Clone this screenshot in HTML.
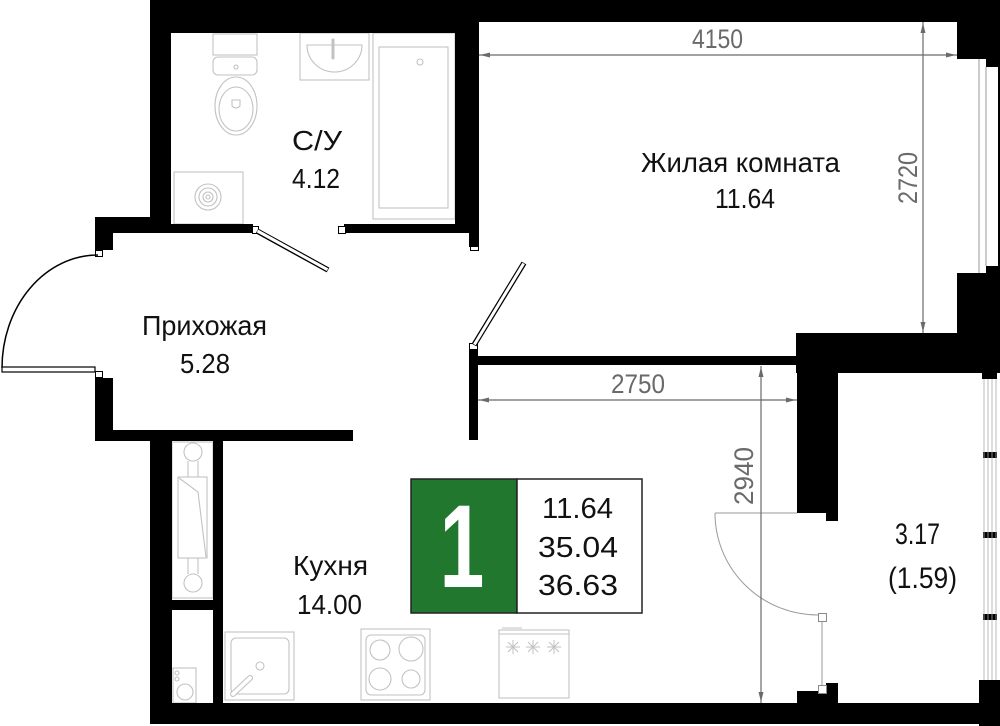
<!DOCTYPE html>
<html><head><meta charset="utf-8">
<style>html,body{margin:0;padding:0;background:#fff;}svg{display:block}</style>
</head>
<body>
<svg width="1000" height="726" viewBox="0 0 1000 726" xmlns="http://www.w3.org/2000/svg">
<rect width="1000" height="726" fill="#fff"/>

<!-- fixtures (light gray) -->
<g fill="none" stroke="#c2c2c2" stroke-width="1.1">
  <!-- toilet -->
  <rect x="213" y="34" width="44" height="21"/>
  <rect x="213" y="57" width="44" height="18" rx="5"/>
  <circle cx="236" cy="67" r="2"/>
  <ellipse cx="236" cy="106" rx="21" ry="29"/>
  <ellipse cx="236" cy="109" rx="17" ry="22"/>
  <path d="M232 100 L232 106 Q236 110 240 106 L240 100 Z"/>
  <!-- sink -->
  <rect x="300" y="33" width="69" height="47"/>
  <path d="M307 45 L362 45 A27.5 27 0 0 1 307 45 Z"/>
  <path d="M333 40 L333 58" stroke-width="3" stroke-linecap="round"/>
  <!-- bathtub -->
  <rect x="373" y="33" width="82" height="186"/>
  <rect x="379" y="47" width="69" height="161"/>
  <circle cx="420" cy="62" r="3"/>
  <!-- washer -->
  <rect x="174" y="172" width="69" height="52"/>
  <circle cx="208" cy="197" r="13"/>
  <circle cx="208" cy="197" r="9"/>
  <circle cx="208" cy="197" r="5"/>
  <circle cx="208" cy="197" r="2"/>
  <!-- shaft / radiator -->
  <rect x="172" y="442" width="41" height="156"/>
  <circle cx="193" cy="452" r="9"/>
  <circle cx="193" cy="583" r="9"/>
  <line x1="188" y1="461" x2="188" y2="477"/>
  <line x1="198" y1="461" x2="198" y2="477"/>
  <line x1="188" y1="558" x2="188" y2="574"/>
  <line x1="198" y1="558" x2="198" y2="574"/>
  <rect x="178" y="477" width="29" height="81"/>
  <path d="M179 478 L198 492 L206 557"/>
  <!-- small appliance -->
  <rect x="173" y="668" width="23" height="35"/>
  <circle cx="177" cy="673" r="2"/>
  <circle cx="177" cy="679" r="2"/>
  <circle cx="185" cy="692" r="8"/>
  <!-- kitchen sink -->
  <rect x="225" y="632" width="69" height="68"/>
  <rect x="231" y="638" width="58" height="56" rx="5"/>
  <circle cx="260" cy="666" r="4"/>
  <path d="M233 694 L250 678" stroke-width="6" stroke-linecap="round"/>
  <path d="M233 694 L250 678" stroke="#fff" stroke-width="3.8" stroke-linecap="round"/>
  <!-- stove -->
  <rect x="361" y="629" width="69" height="71"/>
  <rect x="366" y="635" width="59" height="60" rx="5"/>
  <circle cx="380" cy="650" r="10"/>
  <circle cx="411" cy="649" r="12"/>
  <circle cx="380" cy="679" r="11"/>
  <circle cx="411" cy="679" r="9"/>
  <!-- oven -->
  <rect x="499" y="630" width="70" height="68"/>
  <line x1="499" y1="634" x2="569" y2="634"/>
  <line x1="502" y1="628" x2="522" y2="628"/>
  <g stroke-width="1">
    <path d="M506 647 L520 647 M513 640 L513 654 M508 642 L518 652 M518 642 L508 652"/>
    <path d="M526 647 L540 647 M533 640 L533 654 M528 642 L538 652 M538 642 L528 652"/>
    <path d="M547 647 L561 647 M554 640 L554 654 M549 642 L559 652 M559 642 L549 652"/>
  </g>
</g>

<!-- walls -->
<g fill="#000">
  <rect x="150" y="0" width="850" height="22"/>
  <rect x="150" y="0" width="329" height="33"/>
  <rect x="150" y="0" width="21" height="233"/>
  <rect x="455" y="0" width="24" height="224"/>
  <rect x="344" y="224" width="135" height="9"/>
  <rect x="469" y="224" width="10" height="23"/>
  <rect x="150" y="224" width="103" height="9"/>
  <rect x="95" y="217" width="76" height="16"/>
  <rect x="95" y="217" width="18" height="33"/>
  <rect x="95" y="378" width="18" height="63"/>
  <rect x="95" y="430" width="258" height="11"/>
  <rect x="150" y="430" width="22" height="294"/>
  <rect x="213" y="441" width="10" height="262"/>
  <rect x="172" y="600" width="41" height="10"/>
  <rect x="469" y="350" width="9" height="90"/>
  <rect x="469" y="356" width="330" height="9"/>
  <rect x="957" y="0" width="43" height="59"/>
  <rect x="957" y="273" width="43" height="62"/>
  <rect x="986" y="59" width="14" height="8"/>
  <rect x="986" y="266" width="14" height="7"/>
  <rect x="998" y="59" width="2" height="214"/>
  <rect x="796" y="333" width="204" height="40"/>
  <rect x="797" y="373" width="41" height="140"/>
  <rect x="826" y="513" width="12" height="8"/>
  <rect x="982" y="373" width="15" height="6"/>
  <rect x="983" y="452" width="14" height="6"/>
  <rect x="983" y="532" width="14" height="6"/>
  <rect x="983" y="614" width="14" height="6"/>
  <rect x="979" y="680" width="21" height="46"/>
  <rect x="797" y="691" width="41" height="12"/>
  <rect x="826" y="683" width="12" height="8"/>
  <rect x="150" y="703" width="850" height="21"/>
</g>

<!-- window living room -->
<g stroke="#9a9a9a" stroke-width="1" fill="none">
  <line x1="979" y1="59" x2="979" y2="273"/>
  <line x1="986" y1="67" x2="986" y2="266"/>
</g>
<!-- balcony glazing -->
<g stroke="#aaa" stroke-width="0.8" fill="none">
  <line x1="984" y1="379" x2="984" y2="680"/>
  <line x1="988" y1="379" x2="988" y2="680"/>
  <line x1="992" y1="379" x2="992" y2="680"/>
  <line x1="996" y1="379" x2="996" y2="680"/>
</g>

<!-- door jambs -->
<g fill="#fff" stroke="#000" stroke-width="1">
  <rect x="95.5" y="250.5" width="7" height="6"/>
  <rect x="95.5" y="371.5" width="7" height="6"/>
  <rect x="252.5" y="226.5" width="6" height="7"/>
  <rect x="338.5" y="226.5" width="7" height="7"/>
  <rect x="469.5" y="343.5" width="8" height="6"/>
  <rect x="470.5" y="246.5" width="8" height="4"/>
</g>

<!-- entrance door -->
<path d="M98 255 A96 113 0 0 0 2 368" fill="none" stroke="#000" stroke-width="1.5"/>
<rect x="2" y="367" width="93" height="5" fill="#fff" stroke="#000" stroke-width="1.2"/>
<!-- bathroom door leaf -->
<line x1="257" y1="231" x2="328" y2="270" stroke="#000" stroke-width="5.5"/>
<line x1="257.5" y1="231" x2="327.5" y2="269.7" stroke="#fff" stroke-width="3"/>
<!-- living door leaf -->
<line x1="474" y1="345" x2="524" y2="263" stroke="#000" stroke-width="5.5"/>
<line x1="474.4" y1="344.5" x2="523.6" y2="263.5" stroke="#fff" stroke-width="3"/>

<!-- balcony door -->
<g fill="none" stroke="#9a9a9a" stroke-width="1">
  <path d="M715 513 A103 102 0 0 0 818 615"/>
  <line x1="715" y1="513" x2="797" y2="513"/>
  <line x1="822" y1="621" x2="822" y2="685"/>
</g>
<g fill="#fff" stroke="#8a8a8a" stroke-width="1">
  <rect x="818.5" y="613.5" width="8" height="8"/>
  <rect x="818.5" y="685.5" width="8" height="8"/>
</g>

<!-- dimension lines -->
<g stroke="#6a6a6a" stroke-width="1.2" fill="none">
  <line x1="479" y1="55" x2="957" y2="55"/>
  <line x1="923" y1="22" x2="923" y2="333"/>
  <line x1="478" y1="400" x2="797" y2="400"/>
  <line x1="761" y1="366" x2="761" y2="703"/>
</g>
<g fill="#6a6a6a">
  <polygon points="480,55 490,52.5 490,57.5"/>
  <polygon points="956,55 946,52.5 946,57.5"/>
  <polygon points="923,23 920.5,33 925.5,33"/>
  <polygon points="923,332 920.5,322 925.5,322"/>
  <polygon points="479,400 489,397.5 489,402.5"/>
  <polygon points="796,400 786,397.5 786,402.5"/>
  <polygon points="761,367 758.5,377 763.5,377"/>
  <polygon points="761,702 758.5,692 763.5,692"/>
</g>
<g font-family="'Liberation Sans', sans-serif" font-size="27" fill="#6a6a6a">
  <text x="692" y="48" textLength="51" lengthAdjust="spacingAndGlyphs">4150</text>
  <text x="611" y="393" textLength="54" lengthAdjust="spacingAndGlyphs">2750</text>
  <text transform="translate(917,204) rotate(-90)" x="0" y="0" textLength="52" lengthAdjust="spacingAndGlyphs">2720</text>
  <text transform="translate(753,505) rotate(-90)" x="0" y="0" textLength="58" lengthAdjust="spacingAndGlyphs">2940</text>
</g>

<!-- room labels -->
<g font-family="'Liberation Sans', sans-serif" font-size="28" fill="#111">
  <text x="641" y="172" textLength="199" lengthAdjust="spacingAndGlyphs">Жилая комната</text>
  <text x="715" y="208" textLength="60" lengthAdjust="spacingAndGlyphs">11.64</text>
  <text x="292" y="150" textLength="50" lengthAdjust="spacingAndGlyphs">С/У</text>
  <text x="292" y="188" textLength="48" lengthAdjust="spacingAndGlyphs">4.12</text>
  <text x="142" y="335" textLength="125" lengthAdjust="spacingAndGlyphs">Прихожая</text>
  <text x="180" y="373" textLength="50" lengthAdjust="spacingAndGlyphs">5.28</text>
  <text x="293" y="575" textLength="75" lengthAdjust="spacingAndGlyphs">Кухня</text>
  <text x="297" y="614" textLength="65" lengthAdjust="spacingAndGlyphs">14.00</text>
  <text x="895" y="544" font-size="30" textLength="45" lengthAdjust="spacingAndGlyphs">3.17</text>
  <text x="888" y="588" font-size="30" textLength="69" lengthAdjust="spacingAndGlyphs">(1.59)</text>
</g>

<!-- legend -->
<rect x="411" y="479" width="106" height="134" fill="#22772f" stroke="#222" stroke-width="1.5"/>
<rect x="517" y="479" width="125" height="134" fill="#fff" stroke="#222" stroke-width="1.5"/>
<text transform="translate(462,587) scale(0.68,1)" x="0" y="0" font-family="'Liberation Sans', sans-serif" font-weight="bold" font-size="118" fill="#fff" text-anchor="middle">1</text>
<g font-family="'Liberation Sans', sans-serif" font-size="29" fill="#111">
  <text x="542" y="518" textLength="71" lengthAdjust="spacingAndGlyphs">11.64</text>
  <text x="538" y="557" textLength="80" lengthAdjust="spacingAndGlyphs">35.04</text>
  <text x="538" y="595" textLength="80" lengthAdjust="spacingAndGlyphs">36.63</text>
</g>
</svg>
</body></html>
